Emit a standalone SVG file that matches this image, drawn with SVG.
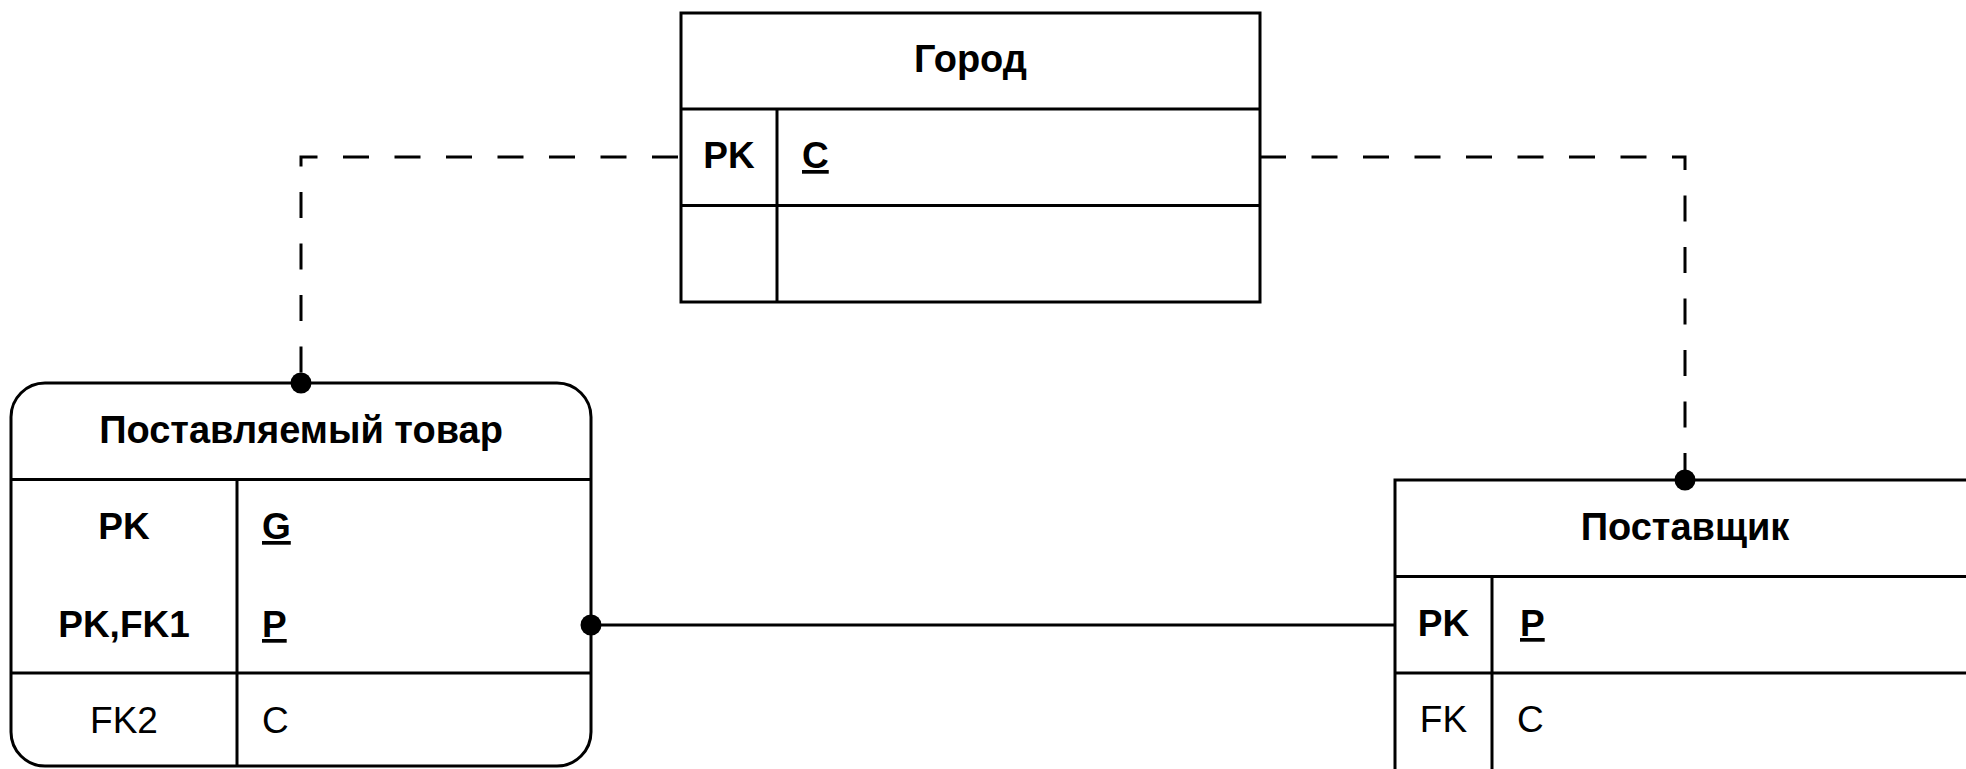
<svg xmlns="http://www.w3.org/2000/svg" width="1966" height="769" viewBox="0 0 1966 769">
<style>
.box{fill:#fff;stroke:#000;stroke-width:3}
.ln{stroke:#000;stroke-width:3;fill:none}
.dash{stroke:#000;stroke-width:3;fill:none;stroke-dasharray:26 25.5}
.t{font-family:"Liberation Sans",Arial,sans-serif;font-size:38px;font-weight:bold;fill:#000;text-anchor:middle}
.k{font-family:"Liberation Sans",Arial,sans-serif;font-size:37px;font-weight:bold;fill:#000;text-anchor:middle}
.kr{font-family:"Liberation Sans",Arial,sans-serif;font-size:37px;font-weight:normal;fill:#000;text-anchor:middle}
.f{font-family:"Liberation Sans",Arial,sans-serif;font-size:37px;font-weight:bold;fill:#000;text-decoration:underline}
.fr{font-family:"Liberation Sans",Arial,sans-serif;font-size:37px;font-weight:normal;fill:#000}
.dot{fill:#000}
</style>
<rect width="1966" height="769" fill="#fff"/>
<g id="connectors">
<path class="dash" d="M681,157 H301 V383" stroke-dashoffset="48.5"/>
<path class="dash" d="M1260,157 H1685 V480"/>
<path class="ln" d="M591,625 H1395"/>
</g>
<g id="gorod">
<rect class="box" x="681" y="13" width="579" height="289"/>
<line class="ln" x1="681" y1="109" x2="1260" y2="109"/>
<line class="ln" x1="681" y1="205.5" x2="1260" y2="205.5"/>
<line class="ln" x1="777" y1="109" x2="777" y2="302"/>
<text class="t" x="970.5" y="72">Город</text>
<text class="k" x="729" y="168">PK</text>
<text class="f" x="802" y="168">C</text>
</g>
<g id="postavlyaemyi-tovar">
<rect class="box" x="11" y="383" width="580" height="383" rx="34" ry="34"/>
<line class="ln" x1="11" y1="479.5" x2="591" y2="479.5"/>
<line class="ln" x1="11" y1="673" x2="591" y2="673"/>
<line class="ln" x1="237" y1="479.5" x2="237" y2="766"/>
<text class="t" x="301" y="443">Поставляемый товар</text>
<text class="k" x="124" y="539">PK</text>
<text class="f" x="262" y="539">G</text>
<text class="k" x="124" y="637">PK,FK1</text>
<text class="f" x="262" y="637">P</text>
<text class="kr" x="124" y="733">FK2</text>
<text class="fr" x="262" y="733">C</text>
</g>
<g id="postavshchik">
<rect class="box" x="1395" y="480" width="580" height="300"/>
<line class="ln" x1="1395" y1="576.5" x2="1975" y2="576.5"/>
<line class="ln" x1="1395" y1="673" x2="1975" y2="673"/>
<line class="ln" x1="1492" y1="576.5" x2="1492" y2="780"/>
<text class="t" x="1685" y="540">Поставщик</text>
<text class="k" x="1443.5" y="636">PK</text>
<text class="f" x="1520" y="636">P</text>
<text class="kr" x="1443.5" y="732">FK</text>
<text class="fr" x="1517" y="732">C</text>
</g>
<g id="ends">
<circle class="dot" cx="301" cy="383" r="10.5"/>
<circle class="dot" cx="1685" cy="480" r="10.5"/>
<circle class="dot" cx="591" cy="625" r="10.5"/>
</g>
</svg>
